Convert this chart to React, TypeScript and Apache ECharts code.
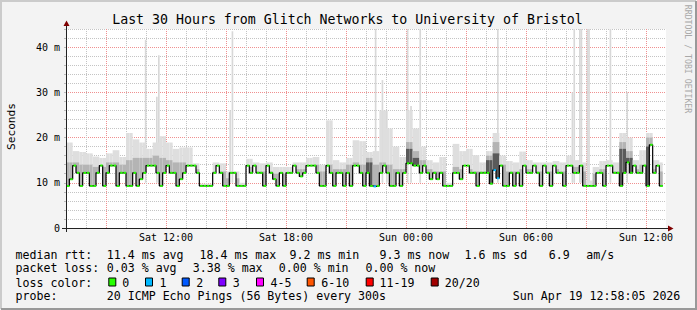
import React, { useEffect, useRef } from 'react';
import * as echarts from 'echarts';

// ---- time frame (hours since Sat 00:00) ----
const startHour = 7; // Sat 07:00
const endHour = 37; // Sun 13:00
const medianStepMinutes = 10;
const smokeStepMinutes = 20;
const spikeMinutes = 5;

// ---- median RTT (ms), one value per 10 minutes ----
const medianSat07to13 = [
  9.3, 10.8, 13.8, 12.2, 9.3, 12.2,
  12.2, 9.3, 9.3, 12.2, 13.8, 9.3,
  12.2, 13.8, 13.8, 9.3, 12.2, 12.2,
  9.3, 9.3, 12.2, 9.3, 10.8, 12.2,
  13.8, 13.8, 13.8, 12.2, 9.3, 12.2,
  13.8, 12.2, 12.2, 9.3, 10.8, 12.2,
];
const medianSat13to19 = [
  13.8, 13.8, 13.8, 12.2, 9.3, 9.3,
  9.3, 9.3, 12.2, 13.8, 12.2, 9.3,
  9.3, 12.2, 12.2, 9.3, 9.3, 9.3,
  13.8, 12.2, 13.8, 12.2, 12.2, 9.3,
  13.8, 12.2, 10.8, 9.3, 12.2, 9.3,
  12.2, 12.2, 13.8, 12.2, 11.4, 12.2,
];
const medianSat19toSun01 = [
  13.8, 13.8, 13.8, 12.2, 9.3, 9.3,
  13.8, 12.2, 9.3, 12.2, 12.2, 9.3,
  12.2, 9.3, 13.8, 13.8, 12.2, 9.3,
  12.2, 9.3, 9.2, 9.3, 12.2, 13.8,
  12.2, 9.3, 9.3, 12.2, 9.3, 12.2,
  14.3, 14.3, 13.8, 13.8, 12.2, 13.8,
];
const medianSun01to07 = [
  12.2, 10.8, 12.2, 10.8, 12.2, 9.3,
  9.3, 9.3, 12.2, 12.2, 10.8, 13.8,
  13.8, 12.2, 12.2, 9.3, 12.2, 12.2,
  12.2, 9.8, 12.8, 11.0, 13.8, 9.3,
  9.3, 12.2, 9.3, 12.2, 9.3, 13.8,
  12.2, 12.2, 13.8, 12.2, 9.3, 13.8,
];
const medianSun07to13 = [
  12.2, 9.3, 13.8, 12.2, 12.2, 9.3,
  13.8, 13.8, 12.2, 12.2, 13.8, 9.3,
  9.3, 9.3, 9.3, 12.2, 12.2, 9.3,
  13.8, 13.8, 12.2, 12.2, 9.3, 12.2,
  14.5, 12.2, 13.8, 12.2, 12.2, 13.8,
  9.3, 18.4, 12.2, 13.8, 9.3, null,
];

// ---- smoke (ms), one value per 20 minutes: top of light smoke / top of darker smoke ----
const smokeHi = [
  18.9, 17, 16.8, 16.5, 15.8, 15.5, 16.5, 17.2, 15.7, 21, 19.6, 18.9, 17.5, 18.9, 20.3, 18.9, 17.5, 17.8,
  17.8, 14.3, 9.8, 9.8, 14.5, 14.3, 12.5, 12.5, 10, 15.3, 14.5, 14.3, 14.5, 13.5, 13.5, 13.5, 14.5, 14.5,
  15.5, 15.7, 14, 23.8, 15, 14.5, 15.5, 19.4, 19.2, 16.8, 17, 26, 22, 18, 15.7, 26, 22, 18,
  15, 14.5, 15.7, 10, 18.6, 17, 17.5, 16.1, 14.5, 17, 21, 16, 14.8, 14.5, 16.9, 15, 14.5, 14.5,
  14.5, 14.8, 14.5, 16, 15, 14.5, 10.5, 13.5, 14.8, 15, 14.5, 21, 20, 15, 17.2, 21, 15, 14.5,
];
const smokeDark = [
  14.5, 14.5, 14, 14, 13.5, 13.5, 14.5, 14.5, 14, 15, 15.5, 15.5, 15.5, 16, 15.5, 15, 14.5, 14.5,
  14, 13, 9.5, 9.5, 12.5, 12.5, 11, 11, 9.5, 13.5, 12.5, 12.5, 12.5, 12, 12, 12, 13, 13,
  13.5, 14, 12.5, 14, 13, 13, 14, 14.5, 14, 15.5, 14, 14.5, 14, 13, 13, 19, 17, 15,
  13, 12.5, 12.5, 9.5, 13.5, 13, 13, 12.5, 12.5, 16, 19, 14, 12.5, 12.5, 13, 13, 12.5, 12.5,
  12.5, 13, 12.5, 13.5, 13.5, 12.5, 9.5, 12, 13, 13.5, 12.5, 19, 17, 13, 14, 20, 13, 12.5,
];
// darkest smoke cores (20-minute smoke step index, top ms)
const coreSteps = [45, 51, 52, 63, 64, 83, 84, 87];
const coreTops = [14.5, 17.5, 15.5, 15, 16.5, 17.5, 15.5, 18];

// ---- isolated tall smoke spikes (hour, top ms) ----
const spikeHours = [10.94, 11.5, 11.6, 15.17, 15.28, 22.44, 22.78, 23.0, 24.04, 24.21, 24.67, 28.55, 32.28, 32.37, 32.65, 32.73, 33.03, 33.11, 34.18, 35.02];
const spikeTops = [41.6, 29, 38.2, 26, 43.5, 46, 32.7, 26, 46, 27, 46, 46, 30, 46, 46, 46, 46, 46, 46, 30];
const spikeBase = 10;

// ---- packet loss per median step (step index, lost pings) ----
const lossSteps = [92, 128, 129];
const lossCounts = [1, 1, 1];

// ---- axis labels ----
const xLabelHours = [12, 18, 24, 30, 36];
const xLabelTexts = ['Sat 12:00', 'Sat 18:00', 'Sun 00:00', 'Sun 06:00', 'Sun 12:00'];

// ---- legend ----
const lossLegendLabels = ['0', '1', '2', '3', '4-5', '6-10', '11-19', '20/20'];
const lossLegendColors = ['#26ff00', '#00b8ff', '#0059ff', '#7e00ff', '#ff00ff', '#ff5500', '#ff0000', '#a10000'];
const rttStats = ['11.4 ms avg', '18.4 ms max', '9.2 ms min', '9.3 ms now', '1.6 ms sd', '6.9', 'am/s'];
const lossStats = ['0.03 % avg', '3.38 % max', '0.00 % min', '0.00 % now'];
const probeText = '20 ICMP Echo Pings (56 Bytes) every 300s';
const dateText = 'Sun Apr 19 12:58:05 2026';
const titleText = 'Last 30 Hours from Glitch Networks to University of Bristol';

const MONO = '"DejaVu Sans Mono", monospace';

function lossColorIndex(n: number): number {
  if (n <= 0) return 0;
  if (n <= 3) return n;
  if (n <= 5) return 4;
  if (n <= 10) return 5;
  if (n <= 19) return 6;
  return 7;
}

export default function App() {
  const ref = useRef<HTMLDivElement>(null);

  useEffect(() => {
    if (!ref.current) return;
    const chart = echarts.init(ref.current, undefined, { renderer: 'svg' });

    const median: (number | null)[] = [
      ...medianSat07to13,
      ...medianSat13to19,
      ...medianSat19toSun01,
      ...medianSun01to07,
      ...medianSun07to13,
    ];
    const step = medianStepMinutes / 60;
    const ratio = smokeStepMinutes / medianStepMinutes;

    const lossMap: Record<number, number> = {};
    lossSteps.forEach((s, i) => (lossMap[s] = lossCounts[i]));
    const coreMap: Record<number, number> = {};
    coreSteps.forEach((s, i) => (coreMap[s] = coreTops[i]));

    const linePts: number[][] = [];
    const dashData: number[][] = [];
    const smokeData: number[][] = [];
    median.forEach((v, i) => {
      if (v == null) return;
      const t0 = startHour + i * step;
      const t1 = t0 + step;
      linePts.push([t0, v]);
      if (i === median.length - 1 || median[i + 1] == null) linePts.push([t1, v]);
      dashData.push([t0, t1, v, lossMap[i] || 0]);
      const k = Math.floor(i / ratio);
      smokeData.push([t0, t1, v, smokeHi[k], smokeDark[k], coreMap[k] || 0]);
    });

    const spikeData = spikeHours.map((h, i) => [h, h + spikeMinutes / 60, spikeBase, Math.min(spikeTops[i], 44)]);

    const graphic: any[] = [];
    // frame
    graphic.push({ type: 'polyline', shape: { points: [[1, 309], [1, 1], [696, 1]] }, style: { stroke: '#cbcbcb', lineWidth: 2, fill: null }, silent: true });
    graphic.push({ type: 'polyline', shape: { points: [[696, 1], [696, 309], [1, 309]] }, style: { stroke: '#999999', lineWidth: 2, fill: null }, silent: true });
    // title
    graphic.push({ type: 'text', x: 347.5, y: 19.3, style: { text: titleText, font: `13.25px ${MONO}`, fill: '#000', align: 'center', verticalAlign: 'middle' } });
    // y name
    graphic.push({ type: 'text', x: 11.3, y: 126.5, rotation: Math.PI / 2, style: { text: 'Seconds', font: `11.2px ${MONO}`, fill: '#000', align: 'center', verticalAlign: 'middle' } });
    // watermark
    graphic.push({ type: 'text', x: 687.5, y: 59, rotation: -Math.PI / 2, style: { text: 'RRDTOOL / TOBI OETIKER', font: `8.2px ${MONO}`, fill: '#a8a8a8', align: 'center', verticalAlign: 'middle' } });
    // axis extensions + arrows
    graphic.push({ type: 'line', shape: { x1: 62, y1: 228.5, x2: 669, y2: 228.5 }, style: { stroke: '#222', lineWidth: 1 }, z: 10 });
    graphic.push({ type: 'line', shape: { x1: 66.5, y1: 232, x2: 66.5, y2: 25 }, style: { stroke: '#222', lineWidth: 1 }, z: 10 });
    graphic.push({ type: 'polygon', shape: { points: [[668, 225.5], [673.5, 228.5], [668, 231.5]] }, style: { fill: '#7f0000' }, z: 11 });
    graphic.push({ type: 'polygon', shape: { points: [[63.5, 26], [66.5, 20.5], [69.5, 26]] }, style: { fill: '#7f0000' }, z: 11 });

    const legendFont = `11.6px ${MONO}`;
    const row = [254.8, 268.2, 282.5, 295.8];
    const addText = (text: string, x: number, y: number) =>
      graphic.push({ type: 'text', x, y, style: { text, font: legendFont, fill: '#000', align: 'left', verticalAlign: 'middle' } });

    addText('median rtt:', 15.5, row[0]);
    const rttX = [106.8, 199.5, 289.5, 379.5, 464.5, 548.8, 586.2];
    rttStats.forEach((s, i) => addText(s, rttX[i], row[0]));

    addText('packet loss:', 15.5, row[1]);
    const lossX = [106.8, 192.8, 278.8, 365.5];
    lossStats.forEach((s, i) => addText(s, lossX[i], row[1]));

    addText('loss color:', 15.5, row[2]);
    const boxX = [108.8, 145.5, 182.2, 218.8, 256.5, 307.2, 366.2, 431.2];
    const boxLabelX = [122.2, 159.5, 196.2, 232.8, 270.5, 321.2, 379.5, 444.8];
    lossLegendLabels.forEach((l, i) => {
      graphic.push({ type: 'rect', shape: { x: boxX[i], y: 278, width: 7, height: 8 }, style: { fill: lossLegendColors[i], stroke: '#000', lineWidth: 1 } });
      addText(l, boxLabelX[i], row[2]);
    });

    addText('probe:', 15.5, row[3]);
    addText(probeText, 106.8, row[3]);
    addText(dateText, 512.8, row[3]);

    const gridGray = '#c4c4c4';
    const gridRed = '#f09090';

    chart.setOption({
      animation: false,
      backgroundColor: 'transparent',
      grid: {
        left: 66,
        top: 29,
        width: 600,
        height: 199,
        show: true,
        backgroundColor: '#ffffff',
        borderWidth: 0,
        outerBoundsMode: 'none',
        containLabel: false,
      },
      xAxis: {
        type: 'value',
        min: startHour,
        max: endHour,
        interval: 1,
        axisLine: { show: true, lineStyle: { color: '#222', width: 1 } },
        axisTick: { show: false },
        axisLabel: {
          show: true,
          margin: 4,
          fontFamily: MONO,
          fontSize: 10,
          color: '#000',
          formatter: (v: number) => {
            const idx = xLabelHours.indexOf(Math.round(v));
            return idx >= 0 ? xLabelTexts[idx] : '';
          },
        },
        splitLine: {
          show: true,
          showMaxLine: false,
          lineStyle: { color: [gridGray, gridGray, gridRed], type: 'dotted', width: 1 },
        },
      },
      yAxis: {
        type: 'value',
        min: 0,
        max: 44,
        interval: 2,
        axisLine: { show: true, lineStyle: { color: '#222', width: 1 } },
        axisTick: { show: true, length: 2, lineStyle: { color: '#bbb' } },
        axisLabel: {
          show: true,
          margin: 6,
          fontFamily: MONO,
          fontSize: 10,
          color: '#000',
          formatter: (v: number) => (v % 10 === 0 ? (v === 0 ? '0' : `${v} m`) : ''),
        },
        splitLine: {
          show: true,
          lineStyle: { color: [gridRed, gridGray, gridGray, gridGray, gridGray], type: 'dotted', width: 1 },
        },
      },
      graphic,
      series: [
        {
          type: 'custom',
          name: 'spikes',
          clip: true,
          encode: { x: [0, 1], y: [2, 3] },
          data: spikeData,
          renderItem: (params: any, api: any) => {
            const a = api.coord([api.value(0), api.value(3)]);
            const b = api.coord([api.value(1), api.value(2)]);
            return { type: 'rect', shape: { x: a[0], y: a[1], width: b[0] - a[0], height: b[1] - a[1] }, style: { fill: '#d8d8d8' } };
          },
          z: 1,
        },
        {
          type: 'custom',
          name: 'smoke',
          clip: true,
          encode: { x: [0, 1], y: [2, 3, 4] },
          data: smokeData,
          renderItem: (params: any, api: any) => {
            const t0 = api.value(0), t1 = api.value(1), m = api.value(2), hi = api.value(3), dk = api.value(4), core = api.value(5);
            const children: any[] = [];
            const b = api.coord([t1, m]);
            if (hi > m) {
              const a = api.coord([t0, hi]);
              children.push({ type: 'rect', shape: { x: a[0], y: a[1], width: b[0] - a[0], height: b[1] - a[1] }, style: { fill: '#dedede' } });
            }
            if (dk > m) {
              const c = api.coord([t0, dk]);
              children.push({ type: 'rect', shape: { x: c[0], y: c[1], width: b[0] - c[0], height: b[1] - c[1] }, style: { fill: '#b4b4b4' } });
            }
            if (core > m) {
              const c = api.coord([t0, core]);
              children.push({ type: 'rect', shape: { x: c[0], y: c[1], width: b[0] - c[0], height: b[1] - c[1] }, style: { fill: '#5a5a5a' } });
            }
            return { type: 'group', children };
          },
          z: 2,
        },
        {
          type: 'line',
          name: 'median',
          data: linePts,
          step: 'end',
          showSymbol: false,
          symbol: 'none',
          lineStyle: { color: '#000', width: 1.2 },
          z: 3,
        },
        {
          type: 'custom',
          name: 'loss',
          clip: true,
          encode: { x: [0, 1], y: 2 },
          data: dashData,
          renderItem: (params: any, api: any) => {
            const v = api.value(2);
            const a = api.coord([api.value(0), v]);
            const b = api.coord([api.value(1), v]);
            const color = lossLegendColors[lossColorIndex(api.value(3))];
            return { type: 'rect', shape: { x: a[0] + 0.9, y: a[1] - 1, width: b[0] - a[0] - 0.9, height: 2 }, style: { fill: color } };
          },
          z: 4,
        },
      ],
    });

    return () => chart.dispose();
  }, []);

  return (
    <div style={{ position: 'fixed', left: 0, top: 0, width: 697, height: 310, background: '#f3f3f3' }}>
      <div ref={ref} style={{ width: 697, height: 310 }} />
    </div>
  );
}
